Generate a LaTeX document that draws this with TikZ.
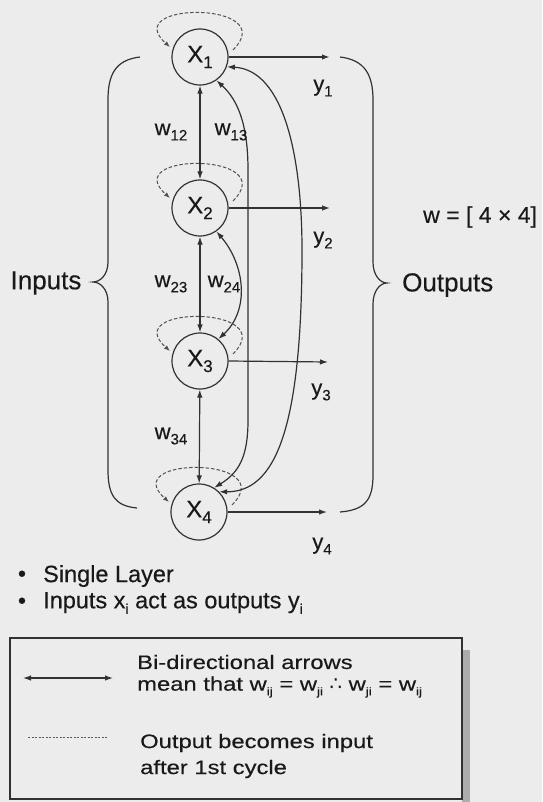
\documentclass[tikz,border=0pt]{standalone}
\usepackage{fontspec}
\setmainfont[FakeBold=0.35]{Liberation Sans}
\newfontfamily\legfont[FakeBold=0.35,FakeStretch=1.22]{Liberation Sans}
\newfontfamily\symfont{DejaVu Sans}
\usetikzlibrary{arrows.meta,calc}
\definecolor{paper}{RGB}{236,236,236}
\definecolor{ink}{RGB}{50,50,50}
\definecolor{txt}{RGB}{25,25,25}
\newcommand\FS[1]{\fontsize{#1}{#1}\selectfont}
\newcommand\lowsub[2]{\raisebox{-0.45ex}{\FS{#1}#2}}
\begin{document}
\begin{tikzpicture}[x=1pt,y=-1pt,
  lin/.style={draw=ink, line width=1.2pt},
  tipend/.style={-{Latex[length=8pt,width=5.5pt]}},
  bothend/.style={{Latex[length=8pt,width=5.5pt]}-{Latex[length=8pt,width=5.5pt]}},
  neuron/.style={circle, draw=ink, line width=1.2pt, minimum size=56pt, inner sep=0pt, text=txt, font=\FS{24}},
  lbl/.style={text=txt, inner sep=0pt, font=\FS{22}},
  loopst/.style={draw=ink!85, line width=1pt, dash pattern=on 3.5pt off 2pt, -{Latex[length=6pt,width=4.5pt]}},
]
\fill[paper] (0,0) rectangle (542,802);
\useasboundingbox (0,0) rectangle (542,802);

% neurons
\node[neuron] (x1) at (200,57) {X\lowsub{17}{1}};
\node[neuron] (x2) at (200,208) {X\lowsub{17}{2}};
\node[neuron] (x3) at (200,361) {X\lowsub{17}{3}};
\node[neuron] (x4) at (199,512) {X\lowsub{17}{4}};

% self loops
\foreach \n in {x1,x2,x3,x4}{
  \draw[loopst] ($(\n.center)+(33,-7)$) .. controls ($(\n.center)+(82,-56)$) and ($(\n.center)+(-82,-56)$) .. ($(\n.center)+(-30,-10)$);
}

% outputs
\coordinate (o1) at (330,57);
\coordinate (o2) at (330,208);
\coordinate (o3) at (328,362);
\coordinate (o4) at (327,512);
\draw[lin,tipend,line width=1.7pt] (x1.east) -- (o1);
\draw[lin,tipend] (x2.east) -- (o2);
\draw[lin,tipend] (x3.east) -- (o3);
\draw[lin,tipend] (x4.east) -- (o4);
\node[lbl] (y1) at (323,88) {y\lowsub{15}{1}};
\node[lbl] (y2) at (323,240) {y\lowsub{15}{2}};
\node[lbl] (y3) at (321,392) {y\lowsub{15}{3}};
\node[lbl] (y4) at (322,546) {y\lowsub{15}{4}};

% straight bidirectional weights
\draw[lin,bothend] (x1) -- (x2);
\draw[lin,bothend] (x2) -- (x3);
\draw[lin,bothend] (x3) -- (x4);

% curved bidirectional weights
\draw[lin,bothend] (x1.-55) .. controls (238,100) and (248,125) .. (248,170) -- (248,420) .. controls (248,455) and (240,472) .. (x4.58);
\draw[lin,bothend] (x1.-20) .. controls (285,70) and (302,160) .. (302,250) .. controls (302,430) and (275,492) .. (x4.45);
\draw[lin,bothend] (x2.-55) .. controls (245,265) and (250,310) .. (x3.50);

% weight labels
\node[lbl] (w12) at (171,132) {w\lowsub{15}{12}};
\node[lbl] (w13) at (231,132) {w\lowsub{15}{13}};
\node[lbl] (w23) at (171,284) {w\lowsub{15}{23}};
\node[lbl] (w24) at (224,284) {w\lowsub{15}{24}};
\node[lbl] (w34) at (171,436) {w\lowsub{15}{34}};

% braces
\draw[lin] (140,57) .. controls (115,60) and (108,75) .. (108,100) -- (108,262) .. controls (108,275) and (100,282) .. (93,282) .. controls (100,282) and (108,289) .. (108,302) -- (108,470) .. controls (108,495) and (115,506) .. (137,508);
\draw[lin] (340,57) .. controls (365,60) and (373,75) .. (373,100) -- (373,262) .. controls (373,275) and (380,283) .. (387,283) .. controls (380,283) and (373,291) .. (373,304) -- (373,475) .. controls (373,500) and (365,510) .. (340,512);

\node[lbl, font=\FS{26}] (inputs) at (46,283) {Inputs};
\node[lbl, font=\FS{26}, anchor=west] (outputs) at (402,285) {Outputs};
\node[lbl, font=\FS{23}, anchor=west] (wmat) at (423,217) {w = [ 4 × 4]};

% bullets
\node[lbl, font=\FS{23}] (d1) at (22,576) {•};
\node[lbl, font=\FS{23.5}, anchor=west] (b1) at (43,576) {Single Layer};
\node[lbl, font=\FS{23}] (d2) at (22,603) {•};
\node[lbl, font=\FS{23.5}, anchor=west] (b2) at (43,603) {Inputs x\lowsub{14}{i} act as outputs y\lowsub{14}{i}};

% legend
\fill[gray!65] (462,650) rectangle (470,802);
\draw[draw=ink, line width=1.5pt, fill=paper] (10,638) rectangle (462,799);
\coordinate (la) at (23,678);
\coordinate (lb) at (113,678);
\coordinate (lc) at (28,737);
\coordinate (ld) at (108,737);
\draw[lin,bothend] (la) -- (lb);
\draw[draw=ink!80, line width=0.9pt, dash pattern=on 2pt off 1.5pt] (lc) -- (ld);
\node[lbl, font=\legfont\FS{19.5}, anchor=west] (t1) at (137,662) {Bi-directional arrows};
\node[lbl, font=\legfont\FS{19.5}, anchor=west] (t2) at (137,687) {mean that w\lowsub{11}{ij} = w\lowsub{11}{ji} {\symfont ∴} w\lowsub{11}{ji} = w\lowsub{11}{ij}};
\node[lbl, font=\legfont\FS{19.5}, anchor=west] (t3) at (140,743) {Output becomes input};
\node[lbl, font=\legfont\FS{19.5}, anchor=west] (t4) at (140,769) {after 1st cycle};
\end{tikzpicture}
\end{document}
